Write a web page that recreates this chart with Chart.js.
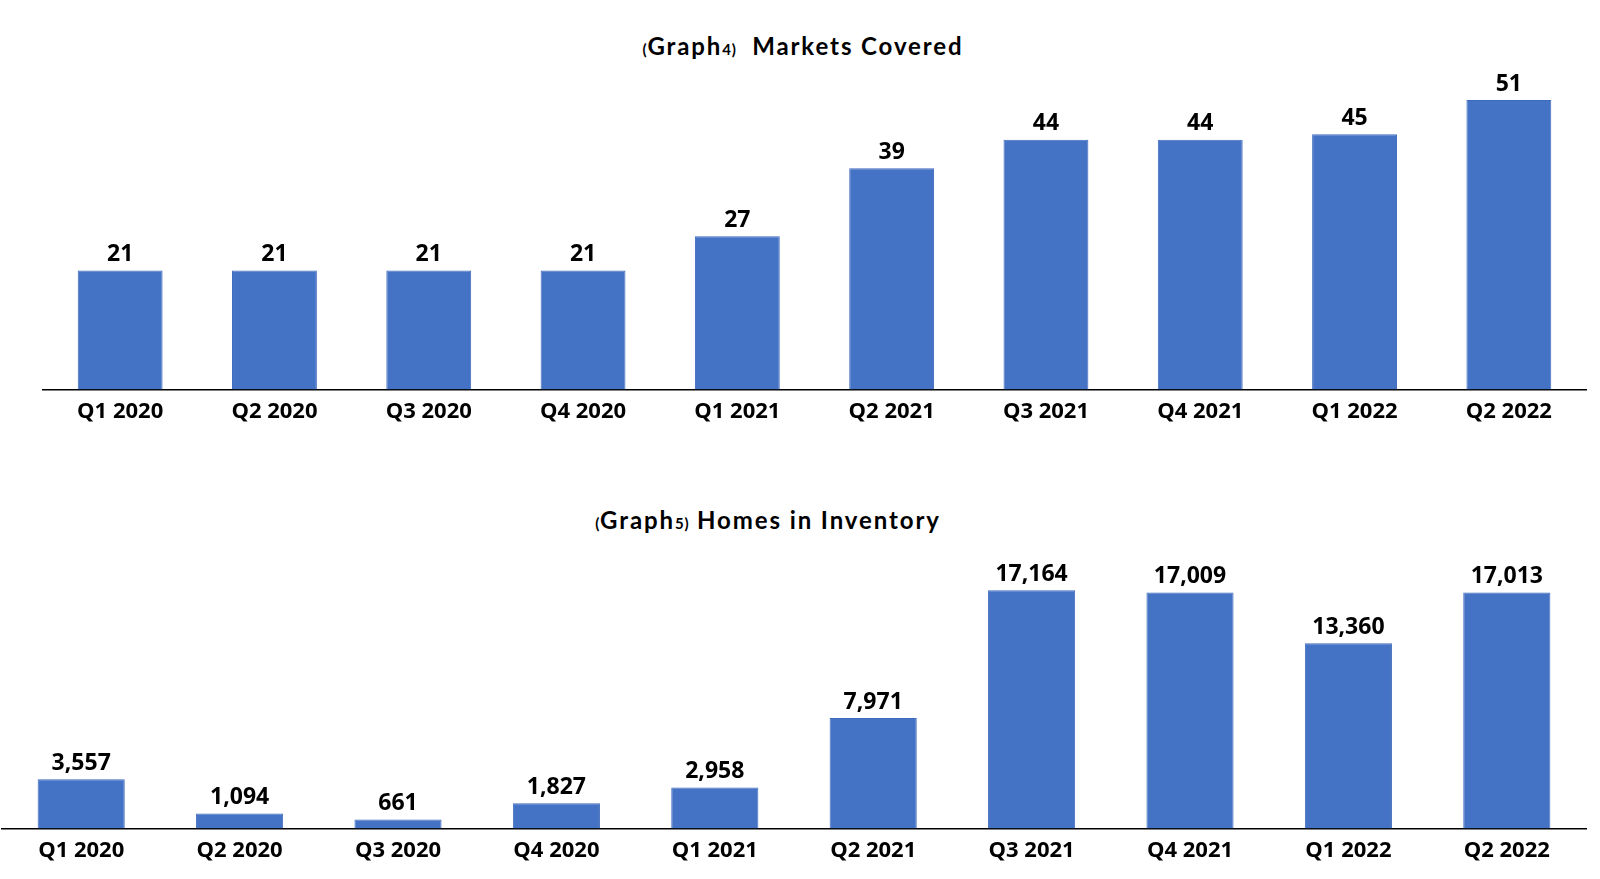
<!DOCTYPE html>
<html>
<head>
<meta charset="utf-8">
<script src="https://cdn.jsdelivr.net/npm/chart.js@4"></script>
<style>
  body { margin: 0; background: #fff; width: 1600px; height: 879px; overflow: hidden; position: relative; }
  .box { position: absolute; left: 0; width: 1600px; }
  .title { position: absolute; font-family: Lato, "DejaVu Sans", sans-serif; font-weight: bold; font-size: 24px; letter-spacing: 1.9px; color: #000; white-space: nowrap; transform: translateX(-50%); }
  .title .sm { font-size: 15px; letter-spacing: 0.8px; }
</style>
</head>
<body>
<div class="title" style="left:803px; top:31px;"><span class="sm">(</span>Graph<span class="sm">4)</span>&nbsp; Markets Covered</div>
<div class="title" style="left:768px; top:505px;"><span class="sm">(</span>Graph<span class="sm">5)</span> Homes in Inventory</div>
<div class="box" style="top:0; height:426px;"><canvas id="marketsChart"></canvas></div>
<div class="box" style="top:440px; height:425px;"><canvas id="homesChart"></canvas></div>
<script>
const quarters = ["Q1 2020", "Q2 2020", "Q3 2020", "Q4 2020", "Q1 2021", "Q2 2021", "Q3 2021", "Q4 2021", "Q1 2022", "Q2 2022"];
const marketsCovered = [21, 21, 21, 21, 27, 39, 44, 44, 45, 51];
const homesInInventory = [3557, 1094, 661, 1827, 2958, 7971, 17164, 17009, 13360, 17013];

const barBlue = "#4472C4";
const labelFont = { family: "'Open Sans', 'DejaVu Sans', sans-serif", size: 22, weight: "bold" };

// draws the value above each bar
const valueLabels = {
  id: "valueLabels",
  afterDatasetsDraw(chart) {
    const ctx = chart.ctx;
    const meta = chart.getDatasetMeta(0);
    const data = chart.data.datasets[0].data;
    ctx.save();
    ctx.font = "bold 23px 'Open Sans', 'DejaVu Sans', sans-serif";
    ctx.fillStyle = "#000";
    ctx.textAlign = "center";
    ctx.textBaseline = "middle";
    meta.data.forEach((bar, i) => {
      ctx.fillText(data[i].toLocaleString("en-US"), bar.x, bar.y - 16);
    });
    ctx.restore();
  }
};

function makeChart(id, values, yMax, padding) {
  const ctx = document.getElementById(id).getContext("2d");
  return new Chart(ctx, {
    type: "bar",
    data: {
      labels: quarters,
      datasets: [
        {
          data: values,
          backgroundColor: barBlue,
          borderColor: "#3f6bbd",
          borderWidth: 1,
          categoryPercentage: 1,
          barPercentage: 0.55,
        },
      ],
    },
    options: {
      responsive: true,
      maintainAspectRatio: false,
      animation: false,
      layout: { padding: padding },
      plugins: {
        legend: { display: false },
        tooltip: { enabled: false },
      },
      scales: {
        x: {
          grid: { display: false },
          border: { display: true, color: "#000", width: 1.5 },
          ticks: { color: "#000", font: labelFont, padding: 1, maxRotation: 0, autoSkip: false },
        },
        y: {
          display: false,
          beginAtZero: true,
          min: 0,
          max: yMax,
        },
      },
    },
    plugins: [valueLabels],
  });
}

makeChart("marketsChart", marketsCovered, 60, { left: 43, right: 14, top: 49, bottom: 0 });
makeChart("homesChart", homesInInventory, 20000, { left: 2, right: 14, top: 111, bottom: 0 });
</script>
</body>
</html>
